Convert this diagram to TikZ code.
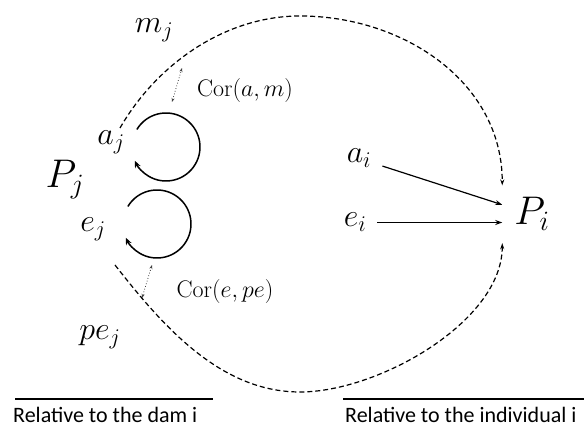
\RequirePackage{fix-cm}
\documentclass[tikz,border=0pt]{standalone}
\usepackage{amsmath}
\usepackage{fontspec}
\newfontfamily\captfont{Carlito}
\usepackage{tikz}
\usetikzlibrary{arrows.meta,positioning,calc}

\begin{document}
\begin{tikzpicture}[x=1pt, y=1pt, >=Stealth,
    var/.style={font=\fontsize{32}{38}\selectfont, inner sep=2pt, anchor=base},
    pvar/.style={font=\fontsize{40}{46}\selectfont, inner sep=12pt, anchor=base},
    cor/.style={font=\fontsize{24}{28}\selectfont, inner sep=0pt, anchor=base},
    capt/.style={font=\captfont\fontsize{22}{26}\selectfont, inner sep=0pt, anchor=base west},
    effect/.style={-{Stealth[length=7pt,width=5pt]}, line width=1.2pt},
    pathway/.style={-{Stealth[length=6pt,width=4pt]}, line width=1.2pt, dash pattern=on 5pt off 3pt},
    selfloop/.style={-{Stealth[length=7pt,width=6pt]}, line width=1.5pt},
    corr/.style={{Stealth[length=4pt,width=3pt]}-{Stealth[length=4pt,width=3pt]}, black!75, line width=0.8pt, dotted},
    sepline/.style={line width=2pt}]
  \useasboundingbox (0,0) rectangle (584,427);

  % Dam j
  \node[var] (mj) at (154,394) {$m_j$};
  \node[var] (aj) at (111,282) {$a_j$};
  \node[pvar, inner sep=2pt] (Pj) at (65,239) {$P_j$};
  \node[var] (ej) at (93,195) {$e_j$};
  \node[var] (pej) at (100,87) {$pe_j$};

  % Individual i
  \node[var, inner sep=11pt] (ai) at (359,264) {$a_i$};
  \node[var, inner sep=11pt] (ei) at (355,200) {$e_i$};
  \node[pvar] (Pi) at (532,202) {$P_i$};

  % Self loops
  \draw[selfloop] (166,280) ++(149:34) arc[start angle=149, end angle=-156, radius=34];
  \draw[selfloop] (157,203) ++(149:34) arc[start angle=149, end angle=-156, radius=34];

  % Correlations
  \node[cor] (corAM) at (245,330) {$\mathrm{Cor}(a,m)$};
  \node[cor] (corEPe) at (225,129) {$\mathrm{Cor}(e,pe)$};
  \coordinate (aloop) at (172,325);
  \coordinate (marc) at (182,359);
  \coordinate (eloop) at (152,162);
  \coordinate (parc) at (142,129);
  \draw[corr] (aloop) -- (marc);
  \draw[corr] (eloop) -- (parc);

  % Maternal pathways
  \coordinate (mstart) at (120,299);
  \coordinate (pstart) at (115,162);
  \draw[pathway] (mstart) to[out=60, in=180, looseness=0.9] (300,411)
    to[out=0, in=90] (Pi.north west);
  \draw[pathway] (pstart) to[out=-52, in=180, looseness=0.9] (300,35)
    to[out=0, in=-90, looseness=0.8] (Pi.south west);

  % Direct effects
  \draw[effect] (ai) -- (Pi);
  \draw[effect] (ei) -- (ei -| Pi.west);

  % Captions
  \draw[sepline] (15,28) -- (213,28);
  \draw[sepline] (343,28) -- (584,28);
  \node[capt] (damcap) at (13,4) {Relative to the dam i};
  \node[capt] (indcap) at (345,4) {Relative to the individual i};
\end{tikzpicture}
\end{document}
